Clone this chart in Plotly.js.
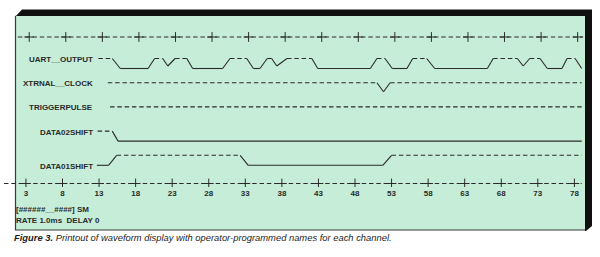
<!DOCTYPE html>
<html><head><meta charset="utf-8">
<script src="https://cdn.plot.ly/plotly-3.0.1.min.js"></script>
<style>html,body{margin:0;padding:0;background:#fff;}#chart{width:600px;height:257px;}</style>
</head><body><div id="chart"></div>
<script>
// ---- data (x = sample column, level 1 = high, 0 = low) ----
const channelNames = ["UART__OUTPUT", "XTRNAL__CLOCK", "TRIGGERPULSE", "DATA02SHIFT", "DATA01SHIFT"];
const uartTime  = [12.9, 14.8, 15.9, 19.7, 20.6, 21.7, 22.4, 23.4, 25.0, 25.8, 29.9, 30.9, 33.2, 34.1, 35.0, 36.0, 36.6, 37.3, 38.7, 42.1, 42.9, 50.1, 51.0, 52.1, 53.1, 55.1, 55.9, 57.8, 58.9, 66.1, 66.9, 70.2, 71.0, 71.9, 73.3, 74.3, 76.3, 77.0, 78.1, 79.0];
const uartLevel = [1, 1, 0, 0, 1, 1, 0.25, 1, 1, 0, 0, 1, 1, 0, 0, 1, 1, 0.25, 1, 1, 0, 0, 1, 1, 0, 0, 1, 1, 0, 0, 1, 1, 0.25, 1, 1, 0, 0, 1, 1, 0];
const clockTime  = [14.2, 51.0, 51.9, 52.8, 79.0];
const clockLevel = [1, 1, 0.1, 1, 1];
const triggerTime  = [14.5, 79.0];
const triggerLevel = [1, 1];
const data02Time  = [12.8, 14.8, 15.6, 79.0];
const data02Level = [1, 1, 0, 0];
const data01Time  = [12.7, 14.3, 15.4, 32.3, 33.4, 51.8, 53.0, 79.0];
const data01Level = [0, 0, 1, 1, 0, 0, 1, 1];
const tickValues = [3, 8, 13, 18, 23, 28, 33, 38, 43, 48, 53, 58, 63, 68, 73, 78];
const tickLabels = ["3", "8", "13", "18", "23", "28", "33", "38", "43", "48", "53", "58", "63", "68", "73", "78"];
const footerLines = ["[######__####] SM", "RATE 1.0ms  DELAY 0"];
const captionBold = "Figure 3.";
const captionText = " Printout of waveform display with operator-programmed names for each channel.";

// ---- layout geometry ----
const W = 600, H = 257, ML = 4, MR = 11, MT = 0, MB = 70;
const plotW = W - ML - MR, plotH = H - MT - MB;
const px2x = p => (p - ML) / plotW;
const py2y = p => 1 - (p - MT) / plotH;
const rowTop = 58.5, rowGap = 24.2, lowDrop = 10;
const ink = '#2b2b2b';
const dashStyle = '4.5px,2.8px';
const font = 'Liberation Sans, Arial, sans-serif';

const channels = [
  {name: channelNames[0], t: uartTime, l: uartLevel},
  {name: channelNames[1], t: clockTime, l: clockLevel},
  {name: channelNames[2], t: triggerTime, l: triggerLevel},
  {name: channelNames[3], t: data02Time, l: data02Level},
  {name: channelNames[4], t: data01Time, l: data01Level}
];

const traces = [];
const annotations = [];
channels.forEach((ch, i) => {
  const base = rowTop + i * rowGap;
  const yOf = lv => base + (1 - lv) * lowDrop;
  const hx = [], hy = [], sx = [], sy = [];
  for (let k = 0; k < ch.t.length - 1; k++) {
    const dashed = ch.l[k] === 1 && ch.l[k + 1] === 1;
    const X = dashed ? hx : sx, Y = dashed ? hy : sy;
    X.push(ch.t[k], ch.t[k + 1], null);
    Y.push(yOf(ch.l[k]), yOf(ch.l[k + 1]), null);
  }
  traces.push({x: hx, y: hy, mode: 'lines', line: {color: ink, width: 1.1, dash: dashStyle}, hoverinfo: 'skip', showlegend: false});
  traces.push({x: sx, y: sy, mode: 'lines', line: {color: ink, width: 1.1}, hoverinfo: 'skip', showlegend: false});
  annotations.push({xref: 'x', yref: 'y', x: 12.5, y: yOf(ch.l[0]) + 1, xanchor: 'right', yanchor: 'middle',
    text: ch.name, showarrow: false, font: {family: font, size: 8, color: ink, weight: 'bold'}});
});

// rulers (top and bottom dashed lines with + marks)
const topY = 37, botY = 183.5;
traces.push({x: [1.9, 79.2], y: [topY, topY], mode: 'lines', line: {color: ink, width: 1, dash: dashStyle}, hoverinfo: 'skip', showlegend: false});
traces.push({x: tickValues.map(v => v + 0.45), y: tickValues.map(() => topY), mode: 'markers',
  marker: {symbol: 'cross-thin', size: 7, line: {color: ink, width: 1}}, hoverinfo: 'skip', showlegend: false});
traces.push({x: [0, 79.0], y: [botY, botY], mode: 'lines', line: {color: ink, width: 1, dash: dashStyle}, hoverinfo: 'skip', showlegend: false});
traces.push({x: tickValues, y: tickValues.map(() => botY), mode: 'markers',
  marker: {symbol: 'cross-thin', size: 7, line: {color: ink, width: 1}}, hoverinfo: 'skip', showlegend: false});

// footer text and caption
footerLines.forEach((t, i) => {
  annotations.push({xref: 'paper', yref: 'paper', x: px2x(14), y: py2y(209.5 + i * 10.5), xanchor: 'left', yanchor: 'middle',
    text: t, showarrow: false, font: {family: font, size: 8, color: ink, weight: 'bold'}});
});
annotations.push({xref: 'paper', yref: 'paper', x: px2x(12), y: py2y(237.5), xanchor: 'left', yanchor: 'middle',
  text: '<b><i>' + captionBold + '</i></b><i>' + captionText + '</i>', showarrow: false,
  font: {family: font, size: 9.4, color: '#1c1c1c'}});

// paper frame
const P = (x, y) => px2x(x).toFixed(5) + ',' + py2y(y).toFixed(5);
const shapes = [
  {type: 'rect', xref: 'paper', yref: 'paper', x0: px2x(15), x1: px2x(586), y0: py2y(230), y1: py2y(15),
    fillcolor: '#c6edd7', line: {width: 0}, layer: 'below'},
  {type: 'line', xref: 'paper', yref: 'paper', x0: px2x(15.5), x1: px2x(15.5), y0: py2y(16), y1: py2y(230),
    line: {color: '#3a3a3a', width: 1.2}, layer: 'below'},
  {type: 'line', xref: 'paper', yref: 'paper', x0: px2x(15), x1: px2x(586), y0: py2y(230), y1: py2y(230),
    line: {color: '#3a3a3a', width: 1.2}, layer: 'below'},
  {type: 'path', xref: 'paper', yref: 'paper', layer: 'above',
    path: 'M' + P(15, 17) + ' L' + P(22, 9.5) + ' L' + P(592, 9.5) + ' L' + P(592, 226) + ' L' + P(586, 231) +
          ' L' + P(585, 231) + ' L' + P(585, 16) + ' L' + P(16, 16) + ' Z',
    fillcolor: '#101010', line: {width: 0}}
];

const layout = {
  width: W, height: H,
  margin: {l: ML, r: MR, t: MT, b: MB, pad: 0},
  paper_bgcolor: '#ffffff', plot_bgcolor: 'rgba(0,0,0,0)',
  showlegend: false,
  xaxis: {range: [0, 80], tickvals: tickValues, ticktext: tickLabels, ticks: '', showgrid: false, zeroline: false,
    showline: false, tickfont: {family: font, size: 8, color: ink, weight: 'bold'}, fixedrange: true},
  yaxis: {range: [MT + plotH, MT], visible: false, showgrid: false, zeroline: false, fixedrange: true},
  shapes: shapes,
  annotations: annotations
};

Plotly.newPlot('chart', traces, layout, {displayModeBar: false, staticPlot: true});
</script>
</body></html>
